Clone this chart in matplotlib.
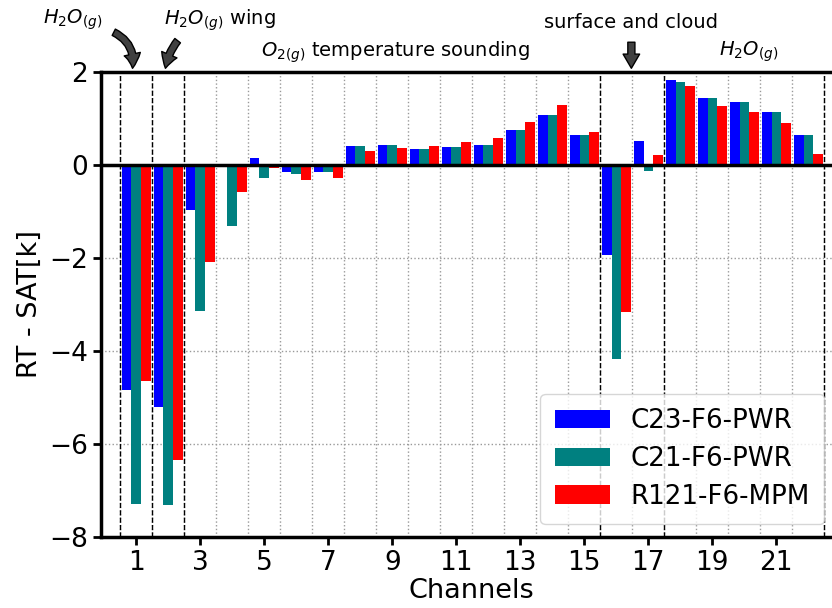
import matplotlib
matplotlib.use('Agg')
import matplotlib.pyplot as plt
import numpy as np

channels = list(range(1, 23))
c23_f6_pwr = [-4.84, -5.20, -0.97, 0.0, 0.15, -0.15, -0.16, 0.40, 0.42, 0.35, 0.39,
              0.44, 0.76, 1.08, 0.65, -1.94, 0.52, 1.83, 1.44, 1.35, 1.13, 0.65]
c21_f6_pwr = [-7.29, -7.31, -3.15, -1.31, -0.28, -0.19, -0.16, 0.40, 0.42, 0.35, 0.39,
              0.44, 0.76, 1.08, 0.65, -4.17, -0.14, 1.79, 1.44, 1.35, 1.13, 0.65]
r121_f6_mpm = [-4.64, -6.34, -2.09, -0.58, -0.06, -0.32, -0.28, 0.31, 0.36, 0.41, 0.50,
               0.57, 0.93, 1.29, 0.71, -3.17, 0.22, 1.70, 1.27, 1.13, 0.90, 0.24]
labels = ['C23-F6-PWR', 'C21-F6-PWR', 'R121-F6-MPM']
band_edges = [0.5, 1.5, 2.5, 15.5, 17.5, 22.5]

x = np.array(channels)
w = 0.3

fig = plt.figure(figsize=(8.32, 6.08), dpi=100)
# axes runs past the right edge of the figure, as in the original (right spine cut off)
ax = fig.add_axes([0.1214, 0.1168, 0.8906, 0.7648])

ax.bar(x - w, c23_f6_pwr, w, color='blue', label=labels[0], zorder=3)
ax.bar(x, c21_f6_pwr, w, color='teal', label=labels[1], zorder=3)
ax.bar(x + w, r121_f6_mpm, w, color='red', label=labels[2], zorder=3)

ax.axhline(0, color='black', lw=2.5, zorder=4)
for b in band_edges:
    ax.axvline(b, color='black', ls='--', lw=1, zorder=2)

ax.set_xlim(-0.1, 23.05)
ax.set_ylim(-8, 2)
ax.set_xticks(np.arange(1, 23, 2))
ax.set_xticks(np.arange(0.5, 23, 1), minor=True)
ax.set_yticks(np.arange(-8, 3, 2))
ax.tick_params(axis='both', which='major', labelsize=19, length=6, width=2)
ax.tick_params(axis='x', which='minor', length=0)
ax.grid(axis='y', which='major', color='0.6', ls=':', lw=1, zorder=0)
ax.grid(axis='x', which='minor', color='0.6', ls=':', lw=1, zorder=0)
for s in ax.spines.values():
    s.set_linewidth(2.5)

ax.set_xlabel('Channels', fontsize=19.5, labelpad=1)
ax.set_ylabel('RT - SAT[k]', fontsize=19.5)

ax.legend(loc='lower right', bbox_to_anchor=(824 / 832, 84 / 608),
          bbox_transform=fig.transFigure, borderaxespad=0,
          fontsize=18.8, handlelength=2.1, borderpad=0.55,
          labelspacing=0.45, framealpha=0.8)

# band annotations above the axes
arrow_kw = dict(arrowstyle='simple,head_length=0.6,head_width=0.7,tail_width=0.3',
                fc='0.25', ec='black', lw=1, mutation_scale=17)
ax.text(-0.97, 3.12, r'$H_2O_{(g)}$', fontsize=14, ha='center', va='center')
ax.annotate('', xy=(0.87, 2.02), xytext=(0.22, 2.88), annotation_clip=False,
            arrowprops=dict(connectionstyle='arc3,rad=-0.4', **arrow_kw))
ax.text(3.6, 3.12, r'$H_2O_{(g)}$ wing', fontsize=14, ha='center', va='center')
ax.annotate('', xy=(1.9, 2.02), xytext=(2.35, 2.72), annotation_clip=False,
            arrowprops=dict(connectionstyle='arc3,rad=0.15', **arrow_kw))
ax.text(9.1, 2.43, r'$O_{2(g)}$ temperature sounding', fontsize=14, ha='center', va='center')
ax.text(16.45, 3.07, 'surface and cloud', fontsize=14, ha='center', va='center')
ax.annotate('', xy=(16.47, 2.02), xytext=(16.47, 2.7), annotation_clip=False,
            arrowprops=dict(connectionstyle='arc3', **arrow_kw))
ax.text(20.15, 2.43, r'$H_2O_{(g)}$', fontsize=14, ha='center', va='center')

plt.savefig('out.png', dpi=100)
